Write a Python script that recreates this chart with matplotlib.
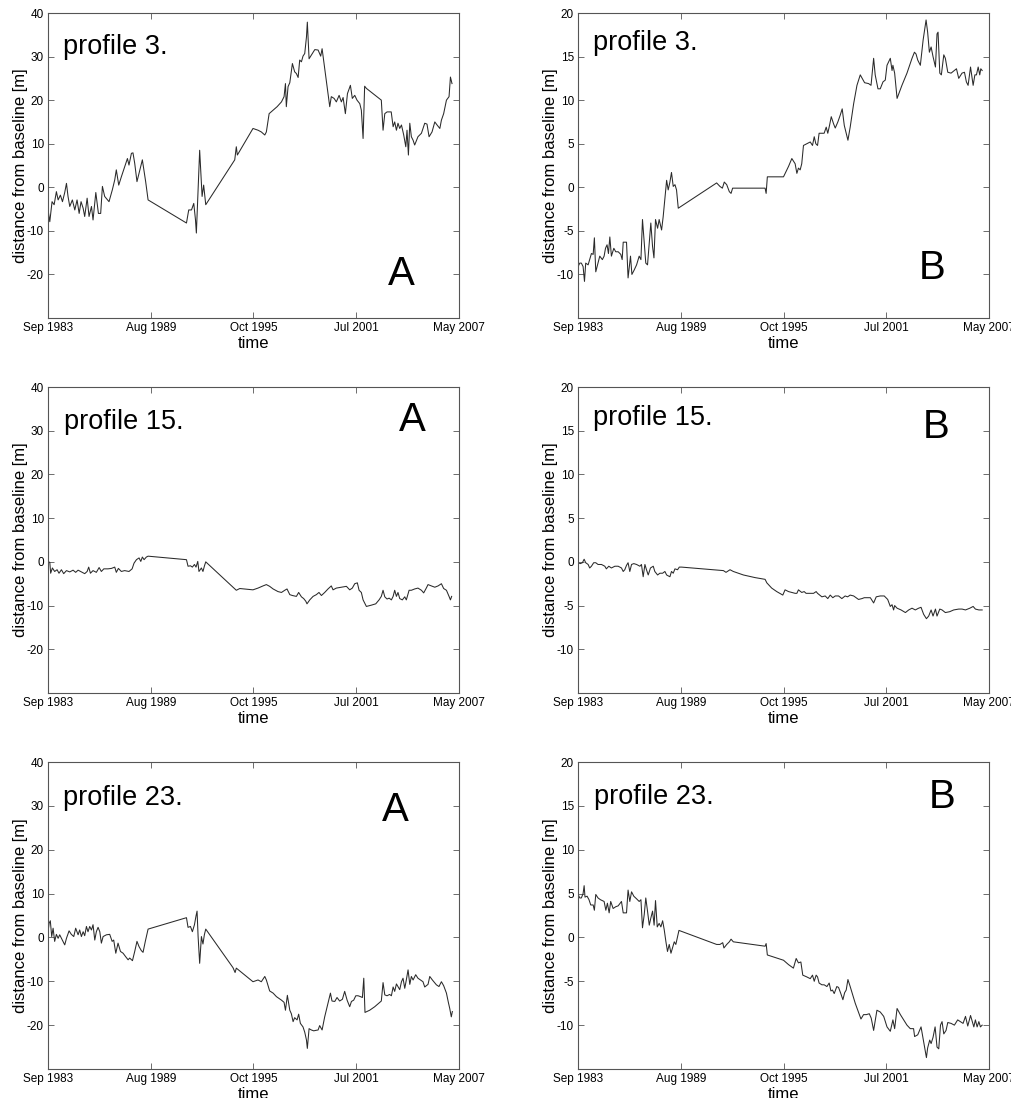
#!/usr/bin/env python3

import numpy as np
import matplotlib
matplotlib.use("Agg")
import matplotlib.pyplot as plt

plt.rcParams['font.family'] = ['Liberation Sans', 'DejaVu Sans']
plt.rcParams['axes.unicode_minus'] = False

# x axis: decimal years, Sep 1983 .. May 2007
X_START = 1983 + 8 / 12.0
X_END = 2007 + 4 / 12.0
tick_labels = ["Sep 1983", "Aug 1989", "Oct 1995", "Jul 2001", "May 2007"]

# profile 3, A
p3a_year = [1983.67, 1983.77, 1983.90, 1984.02, 1984.15, 1984.25, 1984.38, 1984.50, 1984.63, 1984.73,
            1984.82, 1984.92, 1985.07, 1985.21, 1985.34, 1985.46, 1985.57, 1985.69, 1985.78, 1985.92,
            1986.03, 1986.17, 1986.26, 1986.42, 1986.57, 1986.70, 1986.80, 1986.93, 1987.18, 1987.37,
            1987.51, 1987.60, 1987.74, 1987.89, 1988.08, 1988.24, 1988.33, 1988.47, 1988.56, 1988.66,
            1988.79, 1988.91, 1989.10, 1989.29, 1989.43, 1991.64, 1991.77, 1991.93, 1992.06, 1992.16,
            1992.21, 1992.40, 1992.54, 1992.63, 1992.75, 1994.42, 1994.51, 1994.57, 1995.47, 1995.76,
            1995.95, 1996.15, 1996.24, 1996.40, 1996.63, 1996.86, 1997.11, 1997.26, 1997.34, 1997.39,
            1997.49, 1997.59, 1997.74, 1997.87, 1997.97, 1998.07, 1998.16, 1998.26, 1998.35, 1998.45,
            1998.55, 1998.60, 1998.70, 1998.89, 1999.03, 1999.22, 1999.37, 1999.45, 1999.89, 1999.98,
            2000.14, 2000.27, 2000.43, 2000.56, 2000.66, 2000.79, 2000.91, 2001.08, 2001.19, 2001.33,
            2001.46, 2001.62, 2001.71, 2001.81, 2001.90, 2002.00, 2002.86, 2002.96, 2003.06, 2003.19,
            2003.43, 2003.54, 2003.63, 2003.73, 2003.82, 2003.92, 2004.02, 2004.15, 2004.27, 2004.34,
            2004.42, 2004.50, 2004.59, 2004.69, 2004.78, 2004.97, 2005.17, 2005.36, 2005.49, 2005.61,
            2005.78, 2005.94, 2006.07, 2006.23, 2006.32, 2006.45, 2006.61, 2006.76, 2006.84, 2006.93]
p3a_dist = [-5.2, -7.9, -3.3, -4.0, -1.0, -2.9, -1.8, -3.3, -1.2, 0.9,
            -2.1, -4.4, -2.9, -5.2, -2.9, -6.0, -3.3, -4.8, -6.7, -2.5,
            -6.7, -4.4, -7.5, -1.2, -6.0, -6.0, 0.2, -2.1, -3.3, -0.6,
            1.7, 4.0, 0.5, 2.4, 4.7, 6.6, 5.1, 7.8, 7.9, 5.5,
            1.3, 3.2, 6.3, 1.3, -2.9, -8.2, -5.2, -5.2, -3.7, -7.5,
            -10.5, 8.5, -2.1, 0.5, -4.0, 6.3, 9.3, 7.4, 13.5, 13.1,
            12.7, 12.0, 12.7, 16.9, 17.7, 18.5, 19.6, 20.8, 23.8, 18.5,
            23.1, 24.0, 28.4, 26.5, 26.1, 25.2, 29.2, 28.8, 30.1, 30.7,
            34.5, 37.9, 29.5, 30.7, 31.6, 31.5, 30.1, 31.8, 18.5, 20.8,
            20.4, 19.6, 21.1, 19.6, 20.6, 16.9, 21.5, 23.4, 20.4, 21.1,
            20.0, 19.2, 17.7, 11.2, 23.2, 22.7, 20.0, 13.1, 16.9, 17.3,
            17.3, 13.9, 15.0, 13.1, 14.7, 13.5, 14.3, 12.0, 9.3, 13.1,
            7.4, 14.7, 11.6, 10.8, 9.7, 11.6, 12.4, 14.7, 14.5, 11.6,
            12.7, 15.0, 14.3, 13.5, 15.4, 16.9, 20.0, 20.8, 25.3, 23.8]

# profile 3, B
p3b_year = [1983.67, 1983.77, 1983.86, 1983.96, 1984.04, 1984.11, 1984.25, 1984.34, 1984.44, 1984.54,
            1984.61, 1984.69, 1984.82, 1984.92, 1985.07, 1985.17, 1985.25, 1985.34, 1985.42, 1985.50,
            1985.59, 1985.73, 1985.84, 1985.98, 1986.13, 1986.21, 1986.27, 1986.46, 1986.55, 1986.69,
            1986.77, 1986.90, 1987.04, 1987.19, 1987.29, 1987.38, 1987.48, 1987.57, 1987.67, 1987.77,
            1987.86, 1987.96, 1988.04, 1988.13, 1988.25, 1988.34, 1988.48, 1988.57, 1988.67, 1988.77,
            1988.86, 1988.96, 1989.05, 1989.15, 1989.25, 1989.34, 1989.44, 1991.65, 1991.84, 1991.98,
            1992.09, 1992.23, 1992.38, 1992.48, 1992.57, 1994.44, 1994.50, 1994.57, 1995.50, 1995.79,
            1995.98, 1996.17, 1996.27, 1996.36, 1996.46, 1996.55, 1996.65, 1996.84, 1997.04, 1997.17,
            1997.27, 1997.36, 1997.46, 1997.55, 1997.71, 1997.84, 1997.96, 1998.05, 1998.15, 1998.25,
            1998.38, 1998.48, 1998.63, 1998.77, 1998.88, 1999.00, 1999.11, 1999.21, 1999.34, 1999.54,
            1999.73, 1999.92, 2000.17, 2000.40, 2000.54, 2000.69, 2000.78, 2000.94, 2001.07, 2001.23,
            2001.36, 2001.46, 2001.65, 2001.75, 2001.80, 2001.90, 2002.04, 2002.32, 2002.61, 2002.80,
            2002.90, 2003.04, 2003.13, 2003.23, 2003.38, 2003.54, 2003.71, 2003.80, 2003.90, 2004.00,
            2004.11, 2004.25, 2004.34, 2004.40, 2004.50, 2004.59, 2004.73, 2004.82, 2004.96, 2005.15,
            2005.46, 2005.59, 2005.78, 2005.92, 2006.03, 2006.13, 2006.27, 2006.42, 2006.52, 2006.61,
            2006.71, 2006.80, 2006.86, 2006.94]
p3b_dist = [-9.1, -8.7, -8.7, -9.1, -10.8, -8.7, -8.9, -8.3, -7.6, -7.7,
            -5.8, -9.7, -8.7, -7.9, -8.3, -7.9, -7.0, -6.6, -7.6, -5.7,
            -7.9, -7.0, -7.4, -7.4, -7.7, -8.3, -6.3, -6.3, -10.4, -7.9,
            -10.0, -9.5, -8.9, -7.9, -8.3, -3.7, -6.4, -8.7, -8.9, -6.4,
            -4.1, -6.8, -8.1, -3.7, -4.7, -3.7, -4.9, -3.4, -1.3, 0.8,
            -0.3, 0.6, 1.7, 0.1, 0.3, -0.3, -2.4, 0.5, 0.1, -0.1,
            0.6, 0.3, -0.5, -0.7, -0.1, -0.1, -0.7, 1.2, 1.2, 2.4,
            3.3, 2.7, 1.6, 2.2, 2.0, 2.7, 4.8, 5.0, 5.2, 4.8,
            5.8, 5.0, 4.8, 6.2, 6.2, 6.2, 6.9, 6.2, 7.1, 8.1,
            7.3, 6.8, 7.5, 8.3, 9.0, 7.1, 6.2, 5.4, 6.9, 9.6,
            11.7, 12.9, 12.0, 11.9, 11.7, 14.8, 12.9, 11.3, 11.3, 12.1,
            12.3, 14.0, 14.8, 13.4, 14.0, 13.1, 10.2, 11.7, 13.1, 14.2,
            14.8, 15.5, 15.3, 14.6, 14.0, 16.9, 19.2, 17.8, 15.5, 16.1,
            15.0, 13.8, 17.6, 17.8, 13.1, 12.9, 15.2, 14.8, 13.2, 13.1,
            13.6, 12.5, 13.1, 13.2, 12.1, 11.7, 13.8, 11.7, 12.9, 12.9,
            13.8, 12.9, 13.6, 13.4]

# profile 15, A
p15a_year = [1983.67, 1983.77, 1983.82, 1983.92, 1984.05, 1984.19, 1984.30, 1984.44, 1984.57, 1984.73,
             1984.92, 1985.11, 1985.26, 1985.40, 1985.59, 1985.78, 1985.92, 1986.01, 1986.11, 1986.26,
             1986.45, 1986.61, 1986.74, 1986.88, 1987.12, 1987.32, 1987.51, 1987.60, 1987.72, 1987.89,
             1988.08, 1988.33, 1988.51, 1988.62, 1988.76, 1988.91, 1989.01, 1989.10, 1989.20, 1989.33,
             1989.43, 1991.64, 1991.73, 1991.87, 1991.98, 1992.10, 1992.19, 1992.29, 1992.36, 1992.50,
             1992.59, 1992.67, 1992.75, 1994.51, 1994.71, 1995.47, 1995.76, 1996.05, 1996.24, 1996.43,
             1996.63, 1996.91, 1997.11, 1997.30, 1997.43, 1997.59, 1997.74, 1997.97, 1998.10, 1998.26,
             1998.39, 1998.51, 1998.58, 1998.74, 1998.93, 1999.12, 1999.27, 1999.41, 1999.60, 1999.79,
             1999.98, 2000.08, 2000.27, 2000.56, 2000.85, 2001.04, 2001.19, 2001.33, 2001.48, 2001.58,
             2001.71, 2001.81, 2002.00, 2002.29, 2002.54, 2002.73, 2002.86, 2002.96, 2003.06, 2003.19,
             2003.31, 2003.44, 2003.54, 2003.63, 2003.73, 2003.82, 2003.92, 2004.07, 2004.21, 2004.30,
             2004.46, 2004.59, 2004.78, 2004.97, 2005.17, 2005.30, 2005.45, 2005.55, 2005.74, 2005.94,
             2006.13, 2006.32, 2006.45, 2006.61, 2006.76, 2006.84, 2006.91]
p15a_dist = [0.0, -0.1, -2.6, -1.4, -2.2, -1.8, -2.6, -1.8, -2.7, -2.0,
             -2.3, -1.9, -2.4, -1.9, -2.3, -2.7, -2.2, -1.2, -2.6, -2.0,
             -2.4, -1.3, -2.2, -1.6, -1.6, -1.5, -1.2, -2.4, -1.5, -2.2,
             -2.0, -2.2, -1.6, -0.3, 0.5, 0.9, 0.1, 1.1, 0.5, 1.1,
             1.3, 0.5, -1.0, -0.9, -1.2, -0.6, -1.2, 0.1, -2.2, -1.4,
             -2.2, -1.0, 0.0, -6.5, -6.1, -6.4, -6.0, -5.5, -5.2, -5.6,
             -6.2, -6.8, -7.0, -6.5, -6.2, -7.5, -7.7, -7.9, -7.0, -8.0,
             -8.4, -9.0, -9.6, -8.7, -7.9, -7.5, -7.0, -7.7, -7.0, -6.2,
             -5.5, -6.4, -6.0, -5.8, -5.6, -6.4, -6.0, -5.0, -4.8, -6.5,
             -7.0, -8.7, -10.2, -9.9, -9.6, -8.7, -7.9, -6.5, -8.0, -8.5,
             -8.3, -8.7, -7.9, -6.5, -7.9, -7.0, -8.4, -8.7, -8.0, -8.7,
             -6.5, -6.5, -6.2, -6.0, -6.5, -7.1, -6.0, -5.2, -5.5, -5.8,
             -5.5, -5.0, -6.1, -6.5, -7.9, -8.7, -7.9]

# profile 15, B
p15b_year = [1983.67, 1983.80, 1983.92, 1984.02, 1984.11, 1984.25, 1984.34, 1984.44, 1984.57, 1984.69,
             1984.82, 1985.02, 1985.21, 1985.30, 1985.44, 1985.59, 1985.79, 1985.98, 1986.17, 1986.27,
             1986.36, 1986.46, 1986.55, 1986.65, 1986.75, 1986.88, 1987.04, 1987.23, 1987.32, 1987.42,
             1987.52, 1987.61, 1987.71, 1987.84, 1988.00, 1988.09, 1988.25, 1988.38, 1988.54, 1988.67,
             1988.77, 1988.86, 1988.96, 1989.05, 1989.15, 1989.25, 1989.40, 1989.50, 1989.63, 1992.04,
             1992.19, 1992.42, 1992.61, 1993.19, 1993.86, 1994.44, 1994.54, 1994.82, 1995.11, 1995.46,
             1995.59, 1995.79, 1995.98, 1996.17, 1996.27, 1996.36, 1996.55, 1996.69, 1996.80, 1997.04,
             1997.23, 1997.38, 1997.46, 1997.71, 1997.90, 1998.05, 1998.19, 1998.34, 1998.48, 1998.67,
             1998.86, 1999.05, 1999.19, 1999.34, 1999.54, 1999.82, 2000.02, 2000.15, 2000.50, 2000.69,
             2000.84, 2001.07, 2001.30, 2001.50, 2001.65, 2001.75, 2001.84, 2001.90, 2002.04, 2002.27,
             2002.52, 2002.71, 2002.90, 2003.09, 2003.28, 2003.42, 2003.57, 2003.73, 2003.86, 2004.00,
             2004.11, 2004.25, 2004.34, 2004.50, 2004.63, 2004.82, 2005.07, 2005.30, 2005.59, 2005.78,
             2005.98, 2006.23, 2006.42, 2006.55, 2006.75, 2006.94]
p15b_dist = [-0.1, -0.2, -0.1, 0.3, -0.1, -0.3, -0.7, -0.5, -0.1, -0.1,
             -0.3, -0.3, -0.5, -0.8, -0.5, -0.7, -0.5, -0.5, -0.7, -1.1,
             -0.9, -0.4, -0.1, -1.1, -0.3, -0.2, -0.3, -0.5, -0.3, -1.7,
             -0.3, -0.9, -1.5, -0.7, -0.5, -1.1, -1.5, -1.3, -1.3, -1.1,
             -1.5, -1.6, -1.7, -1.1, -1.3, -0.8, -0.9, -0.6, -0.6, -1.0,
             -1.2, -0.9, -1.1, -1.5, -1.8, -2.0, -2.4, -3.0, -3.4, -3.8,
             -3.2, -3.4, -3.5, -3.6, -3.6, -3.2, -3.5, -3.4, -3.6, -3.6,
             -3.6, -3.4, -3.6, -4.0, -3.9, -4.2, -3.8, -4.1, -3.9, -3.9,
             -4.2, -3.9, -4.0, -3.8, -3.9, -4.3, -4.2, -4.1, -4.1, -4.7,
             -4.0, -3.9, -3.9, -4.3, -5.1, -4.9, -5.5, -5.0, -5.3, -5.5,
             -5.8, -5.5, -5.3, -5.5, -5.3, -5.2, -6.0, -6.5, -6.2, -5.5,
             -6.2, -5.4, -6.2, -5.4, -5.5, -5.8, -5.7, -5.5, -5.4, -5.4,
             -5.5, -5.3, -5.1, -5.4, -5.5, -5.5]

# profile 23, A
p23a_year = [1983.67, 1983.73, 1983.80, 1983.88, 1983.96, 1984.05, 1984.15, 1984.25, 1984.34, 1984.44,
             1984.53, 1984.63, 1984.73, 1984.88, 1985.01, 1985.15, 1985.26, 1985.40, 1985.49, 1985.59,
             1985.69, 1985.78, 1985.88, 1985.97, 1986.07, 1986.17, 1986.26, 1986.36, 1986.45, 1986.55,
             1986.65, 1986.74, 1986.84, 1987.03, 1987.22, 1987.36, 1987.45, 1987.57, 1987.70, 1987.84,
             1987.99, 1988.14, 1988.28, 1988.37, 1988.53, 1988.66, 1988.79, 1988.91, 1989.04, 1989.14,
             1989.27, 1989.43, 1991.64, 1991.73, 1991.87, 1991.98, 1992.10, 1992.19, 1992.25, 1992.31,
             1992.40, 1992.50, 1992.59, 1992.67, 1992.75, 1994.32, 1994.44, 1994.51, 1995.47, 1995.76,
             1995.95, 1996.15, 1996.24, 1996.43, 1996.63, 1996.82, 1997.11, 1997.26, 1997.34, 1997.45,
             1997.59, 1997.68, 1997.78, 1997.87, 1998.01, 1998.10, 1998.20, 1998.35, 1998.45, 1998.55,
             1998.60, 1998.70, 1998.83, 1998.97, 1999.08, 1999.22, 1999.31, 1999.45, 1999.60, 1999.79,
             1999.93, 2000.02, 2000.18, 2000.31, 2000.46, 2000.62, 2000.75, 2000.89, 2001.04, 2001.14,
             2001.27, 2001.39, 2001.52, 2001.66, 2001.77, 2001.85, 2001.92, 2002.19, 2002.48, 2002.86,
             2002.96, 2003.06, 2003.19, 2003.34, 2003.44, 2003.54, 2003.63, 2003.73, 2003.82, 2003.92,
             2004.02, 2004.11, 2004.21, 2004.30, 2004.40, 2004.50, 2004.59, 2004.69, 2004.84, 2004.97,
             2005.11, 2005.26, 2005.36, 2005.55, 2005.65, 2005.80, 2006.03, 2006.18, 2006.32, 2006.45,
             2006.61, 2006.72, 2006.80, 2006.89, 2006.95]
p23a_dist = [1.3, 3.2, 3.8, 0.2, 2.1, -0.9, 0.7, -0.2, 0.6, -0.2,
             -0.9, -1.7, -0.2, 1.5, 0.7, 0.2, 2.1, 0.6, 1.7, 0.2,
             1.3, 0.4, 2.5, 1.3, 2.5, 1.7, 2.9, -0.6, 1.3, 2.3,
             1.3, -1.3, 0.2, 0.6, 0.7, -0.9, -0.6, -3.6, -1.3, -3.2,
             -3.6, -4.4, -5.1, -4.7, -5.3, -3.2, -0.9, -2.1, -3.0, -3.4,
             -0.9, 1.9, 4.5, 2.3, 2.5, 1.3, 2.9, 4.9, 6.0, 0.2,
             -5.9, 0.2, -1.5, 0.6, 1.9, -6.9, -8.0, -7.0, -10.1, -9.7,
             -10.1, -8.9, -9.7, -12.2, -12.7, -13.5, -14.3, -14.8, -16.6, -13.2,
             -16.6, -17.4, -19.2, -18.3, -18.8, -17.5, -19.6, -20.4, -21.6, -23.4,
             -25.3, -20.8, -21.1, -21.3, -21.2, -21.1, -20.1, -21.1, -18.1, -15.0,
             -12.7, -14.5, -14.6, -13.7, -14.5, -14.1, -12.3, -14.3, -15.8, -14.6,
             -14.3, -13.3, -13.3, -13.5, -13.7, -9.3, -17.1, -16.6, -15.8, -14.5,
             -10.3, -13.1, -13.3, -13.0, -13.3, -11.3, -12.3, -10.6, -11.2, -11.9,
             -10.1, -9.3, -11.6, -9.7, -7.4, -10.7, -8.9, -9.7, -8.5, -9.3,
             -9.7, -10.1, -11.3, -10.7, -8.9, -9.7, -10.8, -11.2, -10.1, -11.0,
             -12.7, -14.8, -16.2, -18.1, -16.9]

# profile 23, B
p23b_year = [1983.67, 1983.77, 1983.86, 1983.96, 1984.02, 1984.07, 1984.19, 1984.30, 1984.40, 1984.54,
             1984.61, 1984.69, 1984.82, 1984.96, 1985.07, 1985.17, 1985.27, 1985.36, 1985.46, 1985.55,
             1985.69, 1985.84, 1985.98, 1986.17, 1986.27, 1986.46, 1986.55, 1986.65, 1986.75, 1986.88,
             1987.04, 1987.19, 1987.29, 1987.38, 1987.48, 1987.57, 1987.67, 1987.77, 1987.86, 1987.96,
             1988.05, 1988.13, 1988.23, 1988.34, 1988.44, 1988.54, 1988.63, 1988.73, 1988.82, 1988.92,
             1989.02, 1989.11, 1989.21, 1989.30, 1989.38, 1989.48, 1991.65, 1991.84, 1992.00, 1992.07,
             1992.23, 1992.38, 1992.48, 1992.61, 1994.44, 1994.50, 1994.57, 1995.50, 1995.79, 1996.07,
             1996.23, 1996.36, 1996.50, 1996.61, 1996.84, 1997.04, 1997.17, 1997.27, 1997.38, 1997.46,
             1997.55, 1997.71, 1997.84, 1998.00, 1998.13, 1998.23, 1998.32, 1998.42, 1998.57, 1998.67,
             1998.80, 1998.92, 1999.02, 1999.11, 1999.21, 1999.34, 1999.63, 1999.96, 2000.11, 2000.27,
             2000.44, 2000.55, 2000.69, 2000.88, 2001.07, 2001.27, 2001.46, 2001.65, 2001.80, 2001.90,
             2002.04, 2002.23, 2002.42, 2002.61, 2002.80, 2002.99, 2003.05, 2003.23, 2003.42, 2003.57,
             2003.73, 2003.80, 2003.92, 2004.00, 2004.11, 2004.23, 2004.34, 2004.44, 2004.54, 2004.63,
             2004.73, 2004.86, 2004.96, 2005.15, 2005.34, 2005.53, 2005.69, 2005.84, 2005.98, 2006.11,
             2006.27, 2006.46, 2006.55, 2006.65, 2006.75, 2006.84, 2006.94]
p23b_dist = [4.9, 4.5, 4.5, 5.0, 5.9, 4.6, 4.7, 4.3, 3.7, 3.7,
             3.1, 4.9, 4.5, 4.3, 4.2, 4.1, 3.1, 3.9, 2.8, 4.1,
             3.3, 3.5, 3.6, 4.1, 2.8, 2.8, 5.4, 4.1, 5.2, 4.7,
             4.4, 4.1, 4.3, 1.1, 2.6, 4.5, 3.0, 1.4, 2.2, 3.0,
             1.4, 4.2, 1.2, 1.6, 1.2, 1.9, 0.9, -0.5, -1.6, -0.8,
             -1.8, -1.2, -0.5, -0.8, -0.1, 0.8, -0.8, -0.8, -0.6, -1.2,
             -0.8, -0.5, -0.2, -0.5, -1.0, -0.7, -2.0, -2.6, -3.1, -3.5,
             -2.4, -2.9, -2.8, -4.3, -4.5, -4.7, -4.3, -5.0, -4.3, -4.5,
             -5.2, -5.4, -5.4, -5.6, -5.2, -6.1, -6.0, -6.4, -5.6, -5.7,
             -6.4, -7.1, -6.3, -6.0, -4.8, -5.6, -7.5, -9.3, -8.8, -8.8,
             -8.7, -9.2, -10.6, -8.3, -8.5, -9.0, -10.2, -10.7, -9.4, -10.4,
             -8.1, -8.8, -9.4, -10.0, -10.4, -10.4, -11.3, -11.1, -10.2, -11.9,
             -13.7, -12.6, -11.7, -12.1, -11.4, -10.2, -12.5, -12.7, -10.0, -9.6,
             -11.0, -10.6, -9.7, -9.8, -10.0, -9.4, -9.6, -9.8, -9.0, -10.1,
             -8.9, -10.2, -9.4, -10.2, -9.6, -10.2, -10.0]

W, H = 1012, 1098
fig = plt.figure(figsize=(W / 100, H / 100), dpi=100)


def panel(rect, years, dist, ylim, yticks, profile, letter, txt_pos, letter_pos):
    ax = fig.add_axes(rect)
    ax.plot(years, dist, color="#2a2a2a", lw=0.75)
    ax.set_xlim(X_START, X_END)
    ax.set_ylim(ylim)
    ax.set_xticks(np.linspace(X_START, X_END, 5))
    ax.set_xticklabels(tick_labels)
    ax.set_yticks(yticks)
    ax.tick_params(direction="in", top=True, right=True, length=4, width=0.6,
                   labelsize=8.5, pad=3, color="#555555")
    for s in ax.spines.values():
        s.set_color("#555555")
        s.set_linewidth(0.8)
    ax.set_xlabel("time", fontsize=12, labelpad=1)
    ax.set_ylabel("distance from baseline [m]", fontsize=12, labelpad=-1)
    ax.text(txt_pos[0], txt_pos[1], profile, transform=ax.transAxes,
            fontsize=19.5, va="center", ha="left")
    ax.text(letter_pos[0], letter_pos[1], letter, transform=ax.transAxes,
            fontsize=29, va="center", ha="center")
    return ax


left_x, right_x, aw = 48 / W, 578 / W, 411 / W
rows = [(13, 318), (387, 693), (762, 1069)]


def rect(x0, row):
    top, bot = rows[row]
    return [x0, 1 - bot / H, aw, (bot - top) / H]


ylim_a, yt_a = (-30, 40), [-20, -10, 0, 10, 20, 30, 40]
ylim_b, yt_b = (-15, 20), [-10, -5, 0, 5, 10, 15, 20]

panel(rect(left_x, 0), p3a_year, p3a_dist, ylim_a, yt_a, "profile 3.", "A", (0.036, 0.89), (0.859, 0.144))
panel(rect(right_x, 0), p3b_year, p3b_dist, ylim_b, yt_b, "profile 3.", "B", (0.036, 0.90), (0.861, 0.164))
panel(rect(left_x, 1), p15a_year, p15a_dist, ylim_a, yt_a, "profile 15.", "A", (0.038, 0.886), (0.886, 0.892))
panel(rect(right_x, 1), p15b_year, p15b_dist, ylim_b, yt_b, "profile 15.", "B", (0.036, 0.90), (0.871, 0.87))
panel(rect(left_x, 2), p23a_year, p23a_dist, ylim_a, yt_a, "profile 23.", "A", (0.036, 0.883), (0.844, 0.844))
panel(rect(right_x, 2), p23b_year, p23b_dist, ylim_b, yt_b, "profile 23.", "B", (0.038, 0.886), (0.886, 0.886))

fig.savefig("out.png", dpi=100, facecolor="white")
